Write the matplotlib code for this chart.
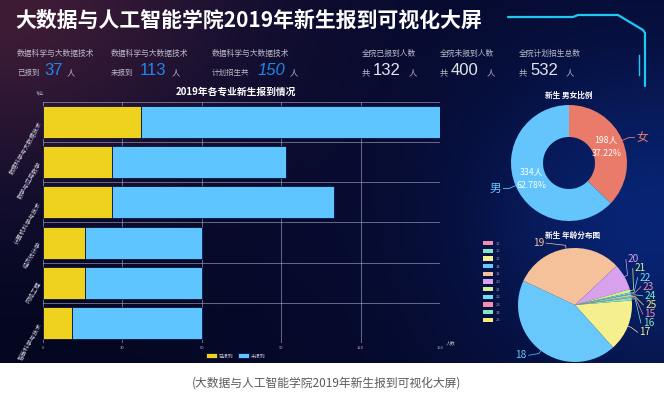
import numpy as np
import matplotlib
matplotlib.use('Agg')
import matplotlib.pyplot as plt
from matplotlib.patches import Patch

plt.rcParams['font.family'] = ['Noto Sans CJK SC', 'DejaVu Sans']

# ---- data ----
majors = ['数据科学与大数据技术', '数学与应用数学', '计算机科学与技术',
          '经济统计学', '网络工程', '智能科学与技术']
arrived = [37, 26, 26, 16, 16, 11]
not_arrived = [113, 66, 84, 44, 44, 49]
x_ticks = [0, 30, 60, 90, 120, 150]

genders = ['女', '男']
gender_count = [198, 334]

ages = ['15', '16', '17', '18', '19', '20', '21', '22', '23', '24', '25']
age_count = [1, 4, 78, 232, 165, 40, 5, 2, 1, 3, 1]

# ---- colours ----
YELLOW = '#eed21e'
BLUE = '#5fc5ff'
gender_colors = ['#ea7a6a', '#63c5fb']
age_colors = ['#f28fb0', '#7ee8c4', '#f6ef8d', '#68c7fb', '#f5c19b', '#d7a1ee',
              '#d4ee8e', '#6fdff1', '#f28fb0', '#7ee8c4', '#f5ea7e']

W, H = 664, 397
DARK_H = 363

fig = plt.figure(figsize=(W / 100, H / 100), dpi=100)
fig.patch.set_facecolor('white')

# background in pixel coordinates
bg = fig.add_axes([0, 0, 1, 1])
bg.set_xlim(0, W)
bg.set_ylim(H, 0)
bg.axis('off')
xx, yy = np.meshgrid(np.arange(W), np.arange(DARK_H))
img = np.zeros((DARK_H, W, 3))
img[:] = np.array([6, 10, 46]) / 255
glow_red = np.exp(-((xx / 230) ** 2 + (yy / 170) ** 2))
glow_blue = np.exp(-(((xx - 650) / 170) ** 2 + ((yy - 220) / 160) ** 2))
dark_bl = np.exp(-((xx / 260) ** 2 + ((yy - 363) / 140) ** 2))
img += glow_red[..., None] * np.array([56, 18, 8]) / 255
img += glow_blue[..., None] * np.array([2, 26, 70]) / 255
img -= dark_bl[..., None] * np.array([2, 3, 14]) / 255
img = np.clip(img, 0, 1)
bg.imshow(img, extent=(0, W, DARK_H, 0), aspect='auto', zorder=0)

# decoration line top right
bg.plot([508, 573, 578, 618, 643, 645, 645], [17, 17, 15, 15, 30, 33, 86],
        color='#1ec8f5', lw=1.6, solid_capstyle='round')
bg.plot([639, 639], [55, 75], color='#1ec8f5', lw=1.0)

# ---- header ----
bg.text(15, 20, '大数据与人工智能学院2019年新生报到可视化大屏', color='white',
        fontsize=15, fontweight='heavy', va='center', ha='left')

sub_c = '#b8b8c8'
num_font = ['Liberation Sans', 'DejaVu Sans']
total_plan = [a + b for a, b in zip(arrived, not_arrived)]

bg.text(17, 56, majors[0], color=sub_c, fontsize=5.6, va='baseline')
bg.text(17, 75, '已报到', color=sub_c, fontsize=5.4, va='baseline')
bg.text(44, 75, str(arrived[0]), color='#1f86ee', fontsize=12, va='baseline', family=num_font)
bg.text(67, 75, '人', color=sub_c, fontsize=6, va='baseline')

bg.text(111, 56, majors[0], color=sub_c, fontsize=5.6, va='baseline')
bg.text(111, 75, '未报到', color=sub_c, fontsize=5.4, va='baseline')
bg.text(140, 75, str(not_arrived[0]), color='#1f86ee', fontsize=12, va='baseline', family=num_font)
bg.text(172, 75, '人', color=sub_c, fontsize=6, va='baseline')

bg.text(212, 56, majors[0], color=sub_c, fontsize=5.6, va='baseline')
bg.text(212, 75, '计划招生共', color=sub_c, fontsize=5.4, va='baseline')
bg.text(258, 75, str(total_plan[0]), color='#1f86ee', fontsize=12, va='baseline',
        family=num_font, style='italic')
bg.text(290, 75, '人', color=sub_c, fontsize=6, va='baseline')

right_stats = [('全院已报到人数', sum(arrived), 362),
               ('全院未报到人数', sum(not_arrived), 440),
               ('全院计划招生总数', sum(total_plan), 519)]
for lab, val, x0 in right_stats:
    bg.text(x0, 56, lab, color=sub_c, fontsize=5.6, va='baseline')
    bg.text(x0, 75, '共', color=sub_c, fontsize=6, va='baseline')
    bg.text(x0 + 11, 75, str(val), color='#e4e4ee', fontsize=12, va='baseline', family=num_font)
    bg.text(x0 + 47, 75, '人', color=sub_c, fontsize=6, va='baseline')

# ---- bar chart ----
bg.text(236, 92, '2019年各专业新生报到情况', color='white', fontsize=7,
        fontweight='bold', ha='center', va='center')
bg.text(40, 93, '专业', color='#b0b0c0', fontsize=3, ha='center', va='center')
bg.text(446, 343, '人数', color='#b0b0c0', fontsize=3.5, ha='left', va='center')

ax = fig.add_axes([43 / W, 1 - 343 / H, (440 - 43) / W, (343 - 102) / H])
ax.set_facecolor('none')
yk = np.arange(len(majors))
ax.barh(yk, arrived, height=0.8, color=YELLOW, edgecolor='#0b1140', lw=0.6,
        label='已报到', zorder=3)
ax.barh(yk, not_arrived, left=arrived, height=0.8, color=BLUE, edgecolor='#0b1140',
        lw=0.6, label='未报到', zorder=3)
ax.set_xlim(0, 150)
ax.set_ylim(len(majors) - 0.5, -0.5)
ax.set_xticks(x_ticks)
ax.set_yticks(yk)
ax.set_yticklabels(majors, rotation=60, ha='right', va='center', rotation_mode='anchor')
ax.set_yticks(np.arange(-0.5, len(majors), 1), minor=True)
ax.tick_params(axis='y', which='both', length=0, labelsize=4.3, labelcolor='#d0d0dc', pad=2)
ax.tick_params(axis='x', length=0, labelsize=3, labelcolor='#b0b0c0', pad=2)
ax.grid(axis='x', which='major', color='#a4a8c8', alpha=0.6, lw=0.7, zorder=1)
ax.grid(axis='y', which='minor', color='#a4a8c8', alpha=0.6, lw=0.7, zorder=1)
for s in ax.spines.values():
    s.set_visible(False)
ax.legend(loc='center', bbox_to_anchor=(236 / W, 1 - 356 / H), bbox_transform=fig.transFigure,
          ncol=2, fontsize=3.5, frameon=False, handlelength=2.2, handleheight=1.2,
          labelcolor='#c0c0d0', columnspacing=1.0, handletextpad=0.4)


def square_axes(cx, cy, half_px):
    a = fig.add_axes([(cx - half_px) / W, 1 - (cy + half_px) / H, 2 * half_px / W, 2 * half_px / H])
    a.set_facecolor('none')
    return a


def fit_axes(a, r_px, half_px):
    lim = half_px / r_px
    a.set_xlim(-lim, lim)
    a.set_ylim(-lim, lim)
    a.set_aspect('auto')
    a.axis('off')


# ---- gender donut ----
bg.text(569, 95, '新生 男女比例', color='white', fontsize=5.5, fontweight='bold',
        ha='center', va='center')
axg = square_axes(569, 163, 75)
total_g = sum(gender_count)
wg, _ = axg.pie(gender_count, colors=gender_colors, startangle=90, counterclock=False,
                radius=1, wedgeprops=dict(width=1 - 26 / 58, edgecolor='none'))
fit_axes(axg, 58, 75)
for w, lab, n, c in zip(wg, genders, gender_count, gender_colors):
    ang = np.deg2rad((w.theta1 + w.theta2) / 2)
    cx, cy = np.cos(ang), np.sin(ang)
    axg.text(0.7 * cx, 0.7 * cy, f'{n}人\n{n / total_g * 100:.2f}%', color='white',
             fontsize=6.3, ha='center', va='center', linespacing=1.5)
    side = np.sign(cx)
    ex, ey = 1.12 * cx, 1.12 * cy
    axg.plot([cx, ex, ex + side * 0.1], [cy, ey, ey], color=c, lw=0.6)
    axg.text(ex + side * 0.13, ey, lab, color=c, fontsize=8.5,
             ha='left' if side > 0 else 'right', va='center')

# ---- age pie ----
bg.text(573, 235, '新生 年龄分布图', color='white', fontsize=5.5, fontweight='bold',
        ha='center', va='center')
axa = square_axes(575, 305, 88)
wa, _ = axa.pie(age_count, colors=age_colors, startangle=8, counterclock=False,
                radius=1, wedgeprops=dict(edgecolor='none'))
fit_axes(axa, 57, 88)

items = []
for w, lab, c in zip(wa, ages, age_colors):
    ang = np.deg2rad((w.theta1 + w.theta2) / 2)
    items.append((np.cos(ang), np.sin(ang), lab, c))
gap = 0.16
for side in (1, -1):
    grp = sorted([it for it in items if np.sign(it[0]) == side], key=lambda t: -t[1])
    ys = [1.1 * it[1] for it in grp]
    for _ in range(300):
        for i in range(len(ys) - 1):
            d = ys[i] - ys[i + 1]
            if d < gap:
                ys[i] += (gap - d) / 2
                ys[i + 1] -= (gap - d) / 2
    for (cx, cy, lab, c), yt in zip(grp, ys):
        xt = side * np.sqrt(max(1.2 ** 2 - yt ** 2, 0.0))
        ex, ey = 1.06 * cx, 1.06 * cy
        axa.plot([cx, ex, xt], [cy, ey, yt], color=c, lw=0.5)
        axa.text(xt + side * 0.03, yt, lab, color=c, fontsize=7.3,
                 ha='left' if side > 0 else 'right', va='center')

fig.legend([Patch(facecolor=c) for c in age_colors], ages, loc='upper left',
           bbox_to_anchor=(483 / W, 1 - 241 / H), fontsize=3, frameon=False,
           labelcolor='#9a9ab0', handlelength=2.4, handleheight=1.2,
           labelspacing=0.75, handletextpad=0.6, borderaxespad=0, borderpad=0)

# ---- caption ----
bg.text(327, 383, '(大数据与人工智能学院2019年新生报到可视化大屏)', color='#5a5a5a',
        fontsize=8.5, ha='center', va='center')

fig.savefig('out.png', dpi=100, facecolor='white')
